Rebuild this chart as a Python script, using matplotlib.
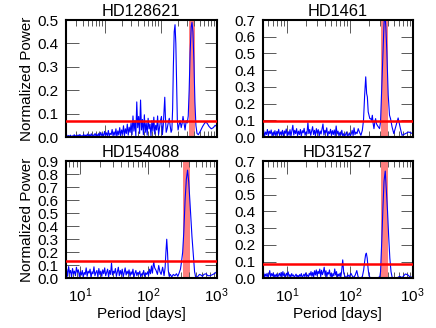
import numpy as np
import matplotlib
matplotlib.use("Agg")
import matplotlib.pyplot as plt

plt.rcParams['font.family'] = ['Liberation Sans', 'DejaVu Sans']
plt.rcParams['font.size'] = 11
plt.rcParams['mathtext.fontset'] = 'custom'
plt.rcParams['mathtext.rm'] = 'Liberation Sans'

# ---- data ----
names = ["HD128621", "HD1461", "HD154088", "HD31527"]
xlims = [(2.0, 1000), (4.1, 1000), (6.2, 1000), (4.1, 1000)]
ylims = [0.5, 0.7, 0.9, 0.7]
thresholds = [0.068, 0.095, 0.135, 0.087]
band = (318, 405)   # one-year window

# short-period noise, powers in 1/1000, sampled evenly in log period
noise_hd128621 = [3, 9, 1, 6, 2, 8, 0, 5, 3, 10, 1, 7, 2, 9, 4, 11, 1, 6, 3, 12,
                  2, 8, 5, 13, 1, 10, 4, 14, 2, 9, 6, 15, 3, 12, 1, 16,
                  4, 20, 6, 14, 2, 24, 8, 18, 3, 28, 5, 16, 10, 32, 4, 22, 7, 35,
                  2, 26, 9, 40, 5, 30,
                  12, 48, 6, 35, 15, 55, 8, 42, 20, 60, 10,
                  90, 25, 70, 5, 150, 40, 88, 15, 158, 30, 75, 10, 95,
                  20, 60, 8, 80, 35, 55, 5, 70, 25, 85, 12, 50, 30, 90, 10, 40]
noise_hd1461 = [10, 40, 5, 30, 15, 45, 8, 35, 20, 42, 6, 28, 12, 38, 4, 33, 18, 46,
                9, 30, 14, 40, 3, 36, 22, 48, 7, 32, 11, 44, 5, 38,
                70, 12, 40, 20, 50, 8, 35, 15, 45, 5, 38, 25, 52, 10, 30, 18,
                86, 20, 45, 10, 35, 62, 15, 40, 8, 50, 22, 44, 6, 36, 18, 48,
                78, 12, 40, 25, 55, 5, 32, 20, 46, 10, 38, 15, 42, 8,
                66, 18, 35, 6, 28, 12, 40, 5,
                20, 4, 15, 30, 2, 12, 25, 5, 18, 40, 8, 55, 15, 30]
noise_hd154088 = [30, 70, 15, 90, 40, 60, 10, 75, 35, 55, 20, 85, 45, 65, 12, 50,
                  25, 60, 8, 45, 30, 80, 15, 55, 40, 70, 5, 50, 35, 88, 20, 45, 60, 10, 75, 30,
                  55, 15, 65, 35, 80, 20, 45, 70, 10, 60, 30, 118, 25, 55, 40, 75, 15, 50, 85, 20,
                  60, 30, 70, 10, 45, 80, 25, 55, 35, 65, 15, 50, 30, 70, 8, 40, 60, 20, 45, 30,
                  55, 10, 35, 25, 60, 15, 40, 30, 50, 20, 70, 35, 95, 40]
noise_hd31527 = [15, 35, 8, 25, 12, 30, 5, 20, 46, 10, 28, 14, 32, 6, 22, 10, 26, 4, 18, 30,
                 12, 35, 8, 40, 15, 25, 5, 30, 18, 38, 10, 22, 6, 28, 14, 20, 4, 16, 25, 8,
                 18, 6, 22, 12, 28, 4, 15, 25, 10, 32, 14, 20, 5, 30, 18, 40, 12, 35, 8, 45,
                 20, 50, 15, 42, 28, 55, 10, 48, 22, 38, 66, 18, 45, 8, 35, 25, 50, 12, 30, 5,
                 28, 15, 56, 20, 40, 8, 25, 12, 30, 10]
noise_ends = [95, 125, 115, 72]

# longer periods: (period, power)
peaks_hd128621 = [(99, 0.07), (103, 0.088), (107, 0.01), (111, 0.05), (115, 0.12), (118, 0.17),
                  (121, 0.09), (125, 0.02), (130, 0.035), (136, 0.06), (142, 0.08), (147, 0.05),
                  (153, 0.02), (158, 0.03), (163, 0.12), (168, 0.30), (174, 0.45), (180, 0.48),
                  (186, 0.40), (192, 0.22), (198, 0.07), (204, 0.03), (212, 0.05), (222, 0.07),
                  (232, 0.04), (242, 0.06), (250, 0.088), (260, 0.06), (272, 0.03), (285, 0.07),
                  (298, 0.06), (310, 0.09), (322, 0.20), (335, 0.36), (350, 0.47), (362, 0.49),
                  (376, 0.45), (392, 0.32), (408, 0.15), (425, 0.05), (445, 0.015), (470, 0.01),
                  (510, 0.025), (560, 0.045), (620, 0.062), (670, 0.06), (730, 0.045),
                  (800, 0.035), (870, 0.04), (940, 0.05), (1000, 0.045)]
peaks_hd1461 = [(130, 0.02), (136, 0.05), (142, 0.03), (150, 0.01), (158, 0.04), (165, 0.10),
                (172, 0.25), (179, 0.36), (185, 0.26), (190, 0.24), (196, 0.15), (202, 0.13),
                (208, 0.11), (214, 0.11), (221, 0.10), (228, 0.13), (235, 0.08), (242, 0.05),
                (250, 0.09), (257, 0.11), (265, 0.08), (273, 0.07), (285, 0.06), (297, 0.05),
                (308, 0.09), (320, 0.27), (336, 0.51), (350, 0.68), (361, 0.74), (374, 0.66),
                (388, 0.51), (408, 0.25), (428, 0.13), (444, 0.11), (470, 0.06), (501, 0.02),
                (546, 0.07), (587, 0.114), (638, 0.05), (677, 0.01), (765, 0.02), (864, 0.03),
                (1000, 0.02)]
peaks_hd154088 = [(118, 0.10), (120, 0.123), (124, 0.08), (130, 0.06), (136, 0.03), (142, 0.098),
                  (148, 0.05), (154, 0.03), (162, 0.085), (170, 0.02), (176, 0.08), (181, 0.20),
                  (186, 0.30), (191, 0.20), (196, 0.06), (202, 0.015), (210, 0.03), (220, 0.01),
                  (232, 0.03), (245, 0.02), (258, 0.035), (270, 0.015), (282, 0.04), (295, 0.07),
                  (305, 0.12), (318, 0.20), (330, 0.35), (345, 0.60), (360, 0.76), (375, 0.83),
                  (390, 0.74), (405, 0.60), (420, 0.45), (435, 0.32), (449, 0.22), (462, 0.12),
                  (475, 0.05), (490, 0.015), (510, 0.005), (531, 0.015), (560, 0.03), (590, 0.025),
                  (620, 0.015), (650, 0.03), (700, 0.035), (740, 0.02), (800, 0.02), (883, 0.03),
                  (950, 0.04), (1000, 0.05)]
peaks_hd31527 = [(74, 0.04), (77, 0.11), (80, 0.03), (84, 0.01), (88, 0.005), (93, 0.02),
                 (98, 0.01), (104, 0.03), (110, 0.012), (116, 0.005), (122, 0.02), (129, 0.046),
                 (135, 0.01), (142, 0.002), (150, 0.003), (158, 0.01), (166, 0.05), (172, 0.10),
                 (178, 0.14), (183, 0.15), (189, 0.12), (195, 0.06), (202, 0.015), (212, 0.003),
                 (225, 0.002), (240, 0.004), (255, 0.003), (270, 0.002), (285, 0.005), (300, 0.01),
                 (308, 0.04), (322, 0.22), (336, 0.42), (350, 0.58), (366, 0.64), (382, 0.52),
                 (398, 0.40), (415, 0.25), (433, 0.12), (452, 0.04), (472, 0.005), (520, 0.002),
                 (570, 0.003), (620, 0.012), (680, 0.004), (765, 0.026), (840, 0.02), (920, 0.005),
                 (1000, 0.01)]

noises = [noise_hd128621, noise_hd1461, noise_hd154088, noise_hd31527]
peaks = [peaks_hd128621, peaks_hd1461, peaks_hd154088, peaks_hd31527]

# axes boxes in figure fraction: left, bottom, width, height
boxes = [(0.1507, 0.5823, 0.3463, 0.3567), (0.6025, 0.5823, 0.3440, 0.3567),
         (0.1507, 0.1515, 0.3463, 0.3576), (0.6025, 0.1515, 0.3440, 0.3576)]

fig = plt.figure(figsize=(4.36, 3.28), dpi=100)

for i in range(4):
    ax = fig.add_axes(boxes[i])
    noise = np.array(noises[i]) / 1000.0
    p_noise = np.geomspace(xlims[i][0], noise_ends[i], len(noise))
    p_peak, w_peak = zip(*peaks[i])
    period = np.concatenate([p_noise, p_peak])
    power = np.concatenate([noise, w_peak])

    ax.axvspan(band[0], band[1], color='red', alpha=0.5, lw=0, zorder=1)
    ax.plot(period, power, color='blue', lw=0.8, zorder=2)
    ax.axhline(thresholds[i], color='red', lw=1.8, zorder=3)

    ax.set_xscale('log')
    ax.set_xlim(*xlims[i])
    ax.set_ylim(0, ylims[i])
    ax.set_yticks(np.arange(0, ylims[i] + 0.001, 0.1))
    ax.yaxis.set_major_formatter(matplotlib.ticker.FormatStrFormatter('%.1f'))
    ax.set_title(names[i], pad=3, fontsize=11.8)

    ax.tick_params(which='both', direction='in', top=True, right=True,
                   color='0.35', width=0.7)
    ax.tick_params(which='major', length=9, pad=5.5)
    ax.tick_params(which='minor', length=4.5)
    for s in ax.spines.values():
        s.set_linewidth(1.5)

    if i < 2:
        ax.tick_params(labelbottom=False)
    else:
        ax.set_xlabel('Period [days]', labelpad=2)
    if i % 2 == 0:
        ax.set_ylabel('Normalized Power', labelpad=2)

fig.savefig('out.png', dpi=100)
